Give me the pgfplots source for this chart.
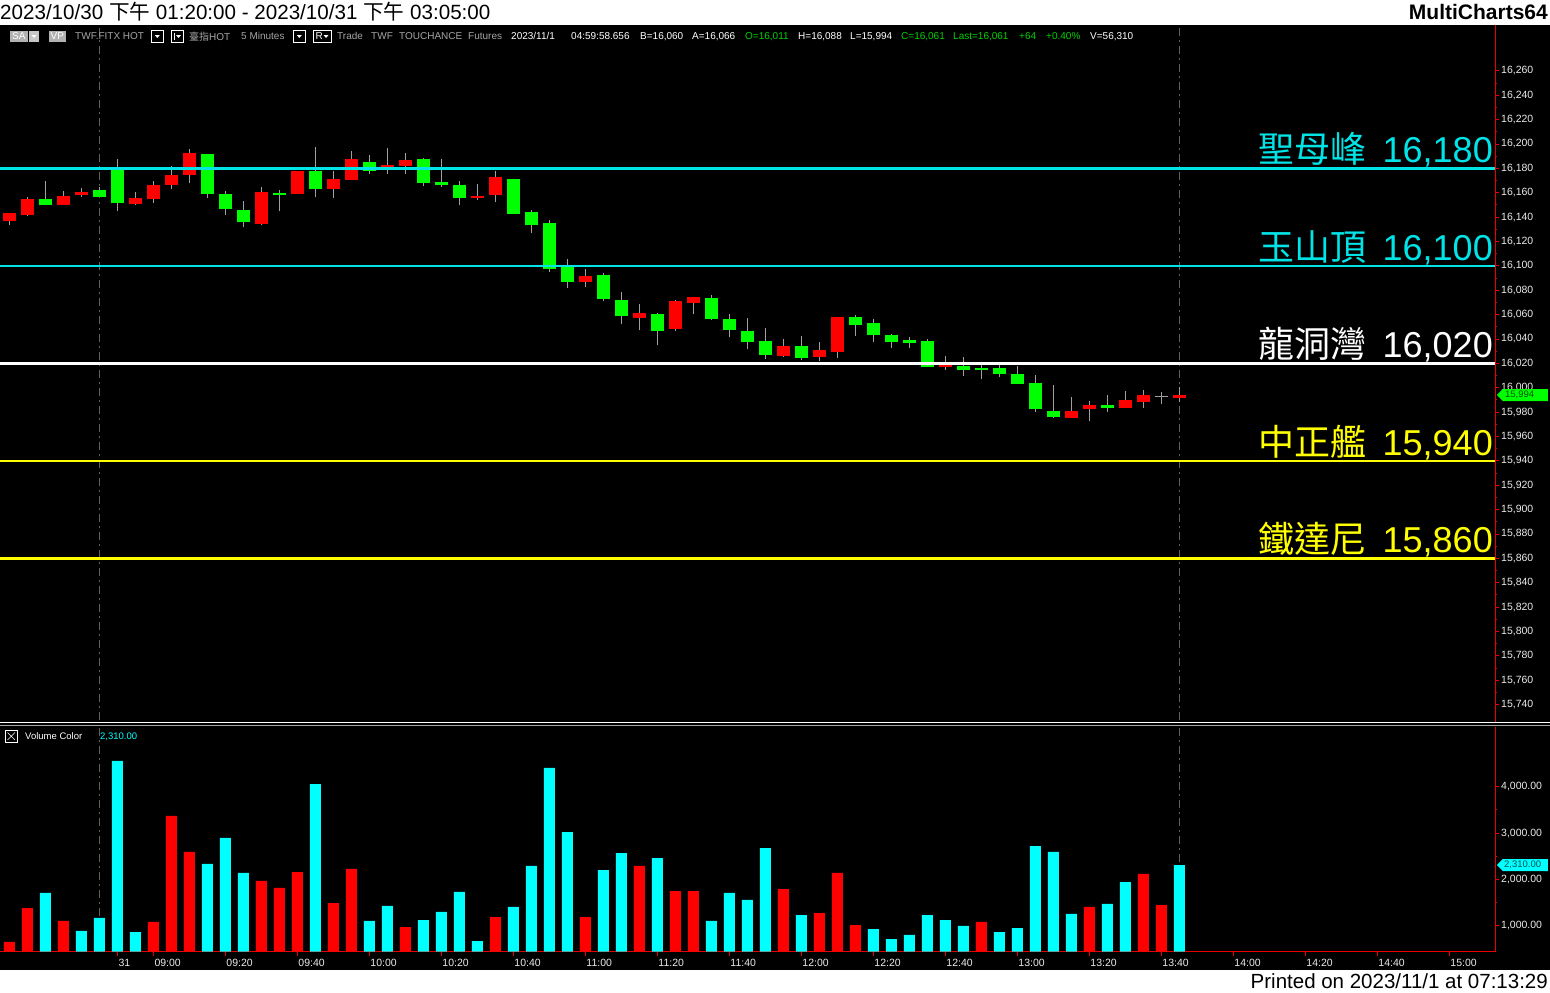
\documentclass[border=0pt]{standalone}
\usepackage{fontspec}
\setmainfont{Liberation Sans}
\newfontfamily\cjk{Noto Sans CJK TC}
\usepackage{pgfplots}
\usepackage{pgfplotstable}
\pgfplotsset{compat=1.18}

\definecolor{upred}{RGB}{255,0,0}
\definecolor{dngreen}{RGB}{0,255,0}
\definecolor{volcyan}{RGB}{0,255,255}
\definecolor{wick}{RGB}{160,160,160}
\definecolor{axred}{RGB}{235,0,0}
\definecolor{lvlcyan}{RGB}{0,228,232}
\definecolor{lvlyellow}{RGB}{255,255,0}
\definecolor{ticktxt}{RGB}{235,235,235}
\definecolor{hdrgray}{RGB}{165,165,165}
\definecolor{hdrgreen}{RGB}{0,210,0}
\definecolor{sess}{RGB}{95,95,95}
\definecolor{mkgreen}{RGB}{0,80,0}
\definecolor{mkcyan}{RGB}{0,80,80}

% 5-minute bars, bar index x: 5 = night close, 6 = 08:50, 8 = 09:00, 65 = 13:45
% red = close above open, green = close below open
\pgfplotstableread{
x o h l c
0 16136.5 16143.0 16133.5 16143.0
1 16141.4 16156.2 16140.6 16154.6
3 16150.0 16161.0 16150.0 16157.0
4 16157.8 16163.6 16156.5 16160.3
7 16150.5 16160.3 16149.6 16155.4
8 16154.6 16170.0 16151.3 16166.0
9 16166.0 16181.6 16162.8 16174.3
10 16174.3 16195.6 16167.7 16192.3
14 16134.1 16164.4 16133.2 16160.3
16 16158.7 16177.5 16158.7 16177.5
18 16162.8 16177.5 16155.4 16171.0
19 16170.2 16193.9 16170.2 16187.4
21 16180.8 16196.4 16175.1 16182.5
22 16181.6 16192.3 16175.1 16186.6
26 16155.4 16166.9 16153.7 16157.0
27 16157.8 16177.5 16152.1 16172.6
32 16086.5 16097.1 16082.4 16091.4
35 16056.9 16068.4 16047.1 16061.0
37 16047.9 16071.7 16046.3 16070.9
38 16069.2 16074.2 16060.2 16074.2
43 16026.0 16040.0 16025.2 16034.2
45 16025.2 16037.5 16021.9 16030.9
46 16029.0 16058.0 16024.1 16058.0
52 16016.7 16025.7 16014.3 16018.4
59 15974.9 15992.1 15974.9 15980.6
60 15982.3 15988.8 15972.4 15985.5
62 15983.1 15997.0 15983.1 15989.6
63 15988.0 15997.8 15983.1 15993.7
65 15991.3 16000.3 15988.0 15994.0
}\upbars

\pgfplotstableread{
x o h l c
2 16155.0 16169.3 16149.6 16149.6
5 16162.0 16164.4 16156.2 16156.2
6 16179.0 16187.4 16144.7 16151.3
11 16191.5 16191.5 16155.4 16158.7
12 16158.7 16161.1 16141.4 16146.4
13 16145.5 16152.9 16131.6 16135.7
15 16159.5 16162.0 16144.7 16157.8
17 16177.5 16197.2 16156.2 16162.8
20 16184.9 16190.7 16175.1 16177.5
23 16187.4 16188.2 16165.2 16167.7
24 16168.5 16187.4 16164.4 16166.0
25 16166.0 16170.0 16149.6 16155.4
28 16171.0 16171.0 16142.3 16142.3
29 16143.9 16145.5 16126.7 16133.2
30 16134.9 16137.3 16094.7 16097.1
31 16098.8 16105.3 16081.5 16086.5
33 16092.2 16093.8 16070.9 16072.5
34 16071.7 16078.3 16052.0 16058.6
36 16060.2 16061.0 16034.8 16046.3
39 16073.3 16075.8 16055.3 16056.1
40 16056.1 16060.2 16041.3 16047.1
41 16046.3 16056.9 16031.5 16037.2
42 16038.3 16049.0 16023.5 16026.8
44 16034.2 16042.4 16022.7 16024.3
47 16057.7 16059.4 16042.2 16051.2
48 16052.8 16056.1 16037.2 16043.0
49 16043.0 16043.8 16032.3 16037.2
50 16038.9 16041.3 16032.3 16036.4
51 16038.1 16039.7 16016.7 16016.7
53 16017.5 16024.9 16009.3 16014.3
54 16015.9 16018.4 16006.9 16014.3
55 16015.9 16018.4 16008.5 16011.0
56 16011.0 16017.5 16002.8 16002.8
57 16003.6 16010.2 15979.8 15982.3
58 15980.6 16002.0 15974.9 15975.7
61 15985.5 15993.7 15979.8 15983.1
}\dnbars

\pgfplotstableread{
x o h l c
64 15993.0 15996.2 15986.4 15993.0
}\dojibars

\pgfplotstableread{
x v
0 649
1 1382
3 1102
8 1081
9 3368
10 2591
14 1965
15 1814
16 2159
18 1490
19 2224
22 972
27 1188
32 1188
35 2289
37 1749
38 1749
43 1792
45 1274
46 2138
47 1015
54 1081
60 1404
63 2116
64 1447
}\volred

\pgfplotstableread{
x v
2 1706
4 886
5 1167
6 4555
7 864
11 2332
12 2893
13 2138
17 4058
20 1102
21 1426
23 1123
24 1296
25 1728
26 670
28 1404
29 2289
30 4404
31 3022
33 2202
34 2569
36 2461
39 1102
40 1706
41 1555
42 2677
44 1231
48 929
49 713
50 800
51 1231
52 1123
53 994
55 864
56 950
57 2720
58 2591
59 1253
61 1469
62 1943
65 2310
}\volcyanbars

\pgfplotsset{
  mcaxis/.style={
    scale only axis, width=1495pt,
    xmin=-0.517, xmax=82.54,
    axis y line*=right,
    axis line style={axred, line width=0.8pt},
    tick style={axred, line width=0.8pt},
    tick align=outside, major tick length=4pt, minor tick length=2.5pt,
    minor y tick num=1,
    ticklabel style={text=ticktxt, font=\fontsize{10.5}{12}\selectfont},
    yticklabel style={anchor=west, inner sep=0pt, xshift=2pt},
    scaled y ticks=false,
    /pgf/number format/1000 sep={,},
    /pgf/number format/assume math mode=true,
  },
  wickplot/.style={draw=none, mark=none, forget plot,
    error bars/.cd, y dir=plus, y explicit, error mark=none,
    error bar style={draw=wick, line width=1pt}},
  bodyplot/.style={draw=none, mark=none, forget plot,
    error bars/.cd, y dir=plus, y explicit, error mark=none,
    error bar style={draw=#1, line width=13pt}},
}
\tikzset{sessline/.style={sess, line width=0.8pt, dash pattern=on 8pt off 4pt on 2pt off 4pt}}

\begin{document}
\begin{tikzpicture}
\path[use as bounding box] (0,0) rectangle (1550pt,-993pt);
\fill[white] (0,0) rectangle (1550pt,-993pt);
\fill[black] (0,-25pt) rectangle (1550pt,-970pt);

% ---------- price panel ----------
\begin{axis}[mcaxis,
  at={(0pt,-722pt)}, anchor=south west, height=697pt,
  ymin=15725.7, ymax=16297.6, clip=false,
  axis x line=none,
  ytick={15740,15760,15780,15800,15820,15840,15860,15880,15900,15920,15940,15960,15980,16000,
         16020,16040,16060,16080,16100,16120,16140,16160,16180,16200,16220,16240,16260},
  yticklabel style={/pgf/number format/fixed, /pgf/number format/precision=0},
]
\draw[sessline] (axis cs:5,15727) -- (axis cs:5,16295);
\draw[sessline] (axis cs:65,15727) -- (axis cs:65,16295);

\addplot[wickplot] table[x=x, y=l, y error plus expr=\thisrow{h}-\thisrow{l}] {\upbars};
\addplot[wickplot] table[x=x, y=l, y error plus expr=\thisrow{h}-\thisrow{l}] {\dnbars};
\addplot[wickplot] table[x=x, y=l, y error plus expr=\thisrow{h}-\thisrow{l}] {\dojibars};
\addplot[bodyplot=upred] table[x=x, y=o, y error plus expr=\thisrow{c}-\thisrow{o}] {\upbars};
\addplot[bodyplot=dngreen] table[x=x, y=c, y error plus expr=\thisrow{o}-\thisrow{c}] {\dnbars};
\addplot[only marks, mark=-, mark size=6.5pt, mark options={draw=wick, line width=1pt}, forget plot]
  table[x=x, y=c] {\dojibars};

% price levels
\addplot[lvlcyan, line width=2.6pt] coordinates {(-0.517,16180) (82.54,16180)};
\addplot[lvlcyan, line width=2.6pt] coordinates {(-0.517,16100) (82.54,16100)};
\addplot[white, line width=2.6pt] coordinates {(-0.517,16020) (82.54,16020)};
\addplot[lvlyellow, line width=2.6pt] coordinates {(-0.517,15940) (82.54,15940)};
\addplot[lvlyellow, line width=2.6pt] coordinates {(-0.517,15860) (82.54,15860)};

\tikzset{lvl/.style={anchor=base east, inner sep=0pt, font=\fontsize{36}{40}\selectfont}}
\node[lvl, text=lvlcyan] at (axis cs:82.43,16184.5) {{\cjk 聖母峰}\hspace{16pt}16,180};
\node[lvl, text=lvlcyan] at (axis cs:82.43,16104.5) {{\cjk 玉山頂}\hspace{16pt}16,100};
\node[lvl, text=white] at (axis cs:82.43,16024.5) {{\cjk 龍洞灣}\hspace{16pt}16,020};
\node[lvl, text=lvlyellow] at (axis cs:82.43,15944.5) {{\cjk 中正艦}\hspace{16pt}15,940};
\node[lvl, text=lvlyellow] at (axis cs:82.43,15864.5) {{\cjk 鐵達尼}\hspace{16pt}15,860};

\coordinate (pm) at (axis cs:82.54,15994);
\end{axis}

% ---------- volume panel ----------
\begin{axis}[mcaxis,
  at={(0pt,-951.7pt)}, anchor=south west, height=224.7pt,
  ymin=439, ymax=5288,
  axis x line*=bottom,
  ytick={1000,2000,3000,4000},
  yticklabel style={/pgf/number format/fixed, /pgf/number format/fixed zerofill, /pgf/number format/precision=2},
  xtick={6,8,12,16,20,24,28,32,36,40,44,48,52,56,60,64,68,72,76,80},
  xticklabels={31,09:00,09:20,09:40,10:00,10:20,10:40,11:00,11:20,11:40,12:00,12:20,12:40,13:00,13:20,13:40,14:00,14:20,14:40,15:00},
  xticklabel style={anchor=north west, inner sep=0pt, xshift=1pt, yshift=-3.5pt},
]
\draw[sessline] (axis cs:5,439) -- (axis cs:5,5288);
\draw[sessline] (axis cs:65,439) -- (axis cs:65,5288);
\addplot[ybar, bar width=11pt, bar shift=0pt, fill=upred, draw=none] table[x=x, y=v] {\volred};
\addplot[ybar, bar width=11pt, bar shift=0pt, fill=volcyan, draw=none] table[x=x, y=v] {\volcyanbars};
\coordinate (vm) at (axis cs:82.54,2310);
\end{axis}

% last-value markers on the scales
\fill[dngreen] ([xshift=2pt]pm) -- ++(6pt,6pt) -- ++(45pt,0) -- ++(0,-12pt) -- ++(-45pt,0) -- cycle;
\node[anchor=west, inner sep=0pt, text=mkgreen, font=\fontsize{9.5}{10}\selectfont] at ([xshift=10pt]pm) {15,994};
\fill[volcyan] ([xshift=2pt]vm) -- ++(6pt,6pt) -- ++(45pt,0) -- ++(0,-12pt) -- ++(-45pt,0) -- cycle;
\node[anchor=west, inner sep=0pt, text=mkcyan, font=\fontsize{9.5}{10}\selectfont] at ([xshift=9pt]vm) {2,310.00};

% ---------- window chrome ----------
\begin{scope}[x=1pt, y=-1pt]
% panel separator
\draw[white, line width=1.2pt] (0,722.5) -- (1550,722.5);
\draw[gray!70, line width=1pt] (0,725.5) -- (1550,725.5);

% title strip and footer
\node[anchor=base west, inner sep=0pt, font=\fontsize{20.6}{24}\selectfont] at (0,19.5)
  {2023/10/30 {\cjk 下午} 01:20:00 - 2023/10/31 {\cjk 下午} 03:05:00};
\node[anchor=base east, inner sep=0pt, font=\bfseries\fontsize{21}{24}\selectfont] at (1548,19.5) {MultiCharts64};
\node[anchor=base east, inner sep=0pt, font=\fontsize{20.5}{24}\selectfont] at (1548,988.5) {Printed on 2023/11/1 at 07:13:29};

% status line of the price panel
\tikzset{hd/.style={anchor=west, inner sep=0pt, font=\fontsize{10}{12}\selectfont}}
\fill[gray!60] (10,30.5) rectangle (28,42);
\node[hd, text=white] at (12,36.3) {SA};
\fill[gray!45] (29,30.5) rectangle (39,42);
\fill[white] (31.5,35) -- ++(5,0) -- ++(-2.5,3) -- cycle;
\fill[gray!60] (49,30.5) rectangle (66,42);
\node[hd, text=white] at (50.5,36.3) {VP};
\node[hd, text=hdrgray] at (75,36.3) {TWF.FITX HOT};
\draw[white, line width=0.7pt] (151.5,30.5) rectangle (163,42);
\fill[white] (154.8,35) -- ++(5,0) -- ++(-2.5,3) -- cycle;
\draw[white, line width=0.7pt] (171.5,30.5) rectangle (183,42);
\draw[white, line width=0.7pt] (174,33) -- (174,39.5);
\fill[white] (176,35) -- ++(5,0) -- ++(-2.5,3) -- cycle;
\node[hd, text=hdrgray] at (189,36.3) {{\cjk 臺指}HOT};
\node[hd, text=hdrgray] at (241,36.3) {5 Minutes};
\draw[white, line width=0.7pt] (293.5,30.5) rectangle (305,42);
\fill[white] (296.8,35) -- ++(5,0) -- ++(-2.5,3) -- cycle;
\draw[white, line width=0.7pt] (313.5,30.5) rectangle (331,42);
\node[hd, text=white] at (315.5,36.3) {R};
\fill[white] (323.5,35) -- ++(5,0) -- ++(-2.5,3) -- cycle;
\node[hd, text=hdrgray] at (337,36.3) {Trade};
\node[hd, text=hdrgray] at (371,36.3) {TWF};
\node[hd, text=hdrgray] at (399,36.3) {TOUCHANCE};
\node[hd, text=hdrgray] at (468,36.3) {Futures};
\node[hd, text=white] at (511,36.3) {2023/11/1};
\node[hd, text=white] at (571,36.3) {04:59:58.656};
\node[hd, text=white] at (640,36.3) {B=16,060};
\node[hd, text=white] at (692,36.3) {A=16,066};
\node[hd, text=hdrgreen] at (745,36.3) {O=16,011};
\node[hd, text=white] at (798,36.3) {H=16,088};
\node[hd, text=white] at (850,36.3) {L=15,994};
\node[hd, text=hdrgreen] at (901,36.3) {C=16,061};
\node[hd, text=hdrgreen] at (953,36.3) {Last=16,061};
\node[hd, text=hdrgreen] at (1019,36.3) {+64};
\node[hd, text=hdrgreen] at (1046,36.3) {+0.40\%};
\node[hd, text=white] at (1090,36.3) {V=56,310};

% status line of the volume panel
\draw[white, line width=0.7pt] (5.5,730.5) rectangle (17,742);
\draw[white, line width=0.6pt] (7.5,732.5) -- (15,740) (7.5,740) -- (15,732.5);
\node[hd, text=white, font=\fontsize{9.5}{11}\selectfont] at (25,736.3) {Volume Color};
\node[hd, text=volcyan, font=\fontsize{9.5}{11}\selectfont] at (100,736.3) {2,310.00};
\end{scope}
\end{tikzpicture}
\end{document}
